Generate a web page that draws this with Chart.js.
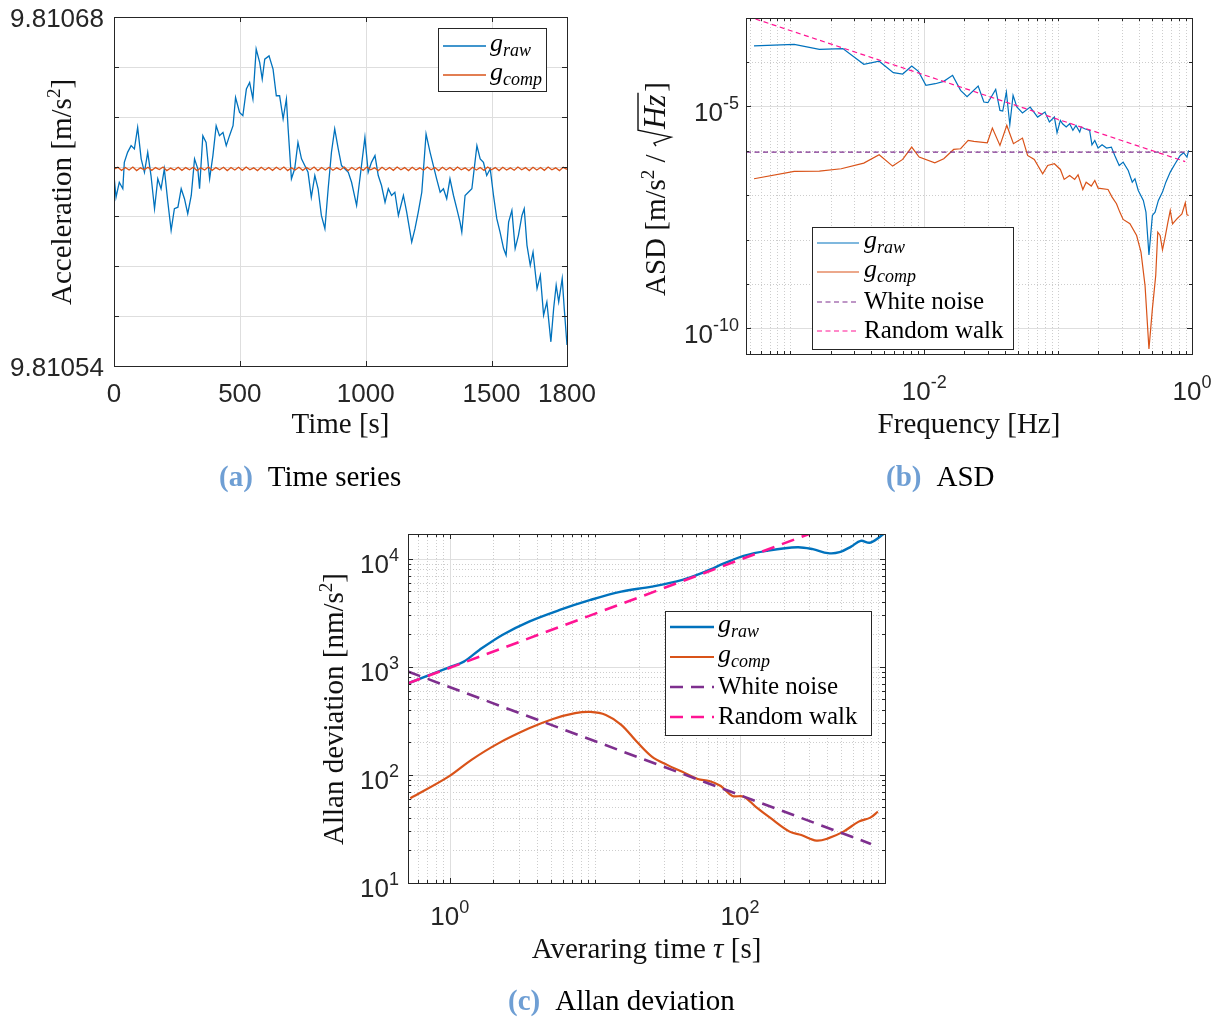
<!DOCTYPE html>
<html>
<head>
<meta charset="utf-8">
<script src="https://cdn.jsdelivr.net/npm/chart.js@4.4.0/dist/chart.umd.min.js"></script>
<style>
body { margin: 0; background: #fff; }
#wrap { position: relative; width: 1222px; height: 1021px; }
#wrap canvas { position: absolute; left: 0; top: 0; }
</style>
</head>
<body>
<div id="wrap">
  <canvas id="tsChart" width="1222" height="1021"></canvas>
  <canvas id="asdChart" width="1222" height="1021"></canvas>
  <canvas id="adevChart" width="1222" height="1021"></canvas>
</div>
<script>
// (a) Time series -------------------------------------------------------
const tsXTicks = [0, 500, 1000, 1500, 1800];
const tsYTicks = [9.81054, 9.81056, 9.81058, 9.81060, 9.81062, 9.81064, 9.81066, 9.81068];
const tsYLabels = [9.81054, 9.81068];

const tsTime = [0, 8, 21, 35, 41, 54, 68, 81, 94, 108, 121, 134, 147, 161, 174, 187, 200, 214, 227, 240,
  254, 267, 280, 293, 307, 320, 333, 340, 353, 366, 380, 393, 406, 419, 433, 446, 459, 473, 483, 499,
  512, 526, 539, 552, 565, 579, 589, 599, 616, 632, 645, 658, 672, 685, 692, 705, 718, 731, 745, 758,
  771, 784, 798, 811, 824, 838, 851, 864, 877, 891, 904, 917, 931, 944, 964, 977, 997, 1010, 1023, 1037,
  1050, 1063, 1077, 1090, 1103, 1116, 1130, 1150, 1163, 1183, 1196, 1209, 1223, 1240, 1256, 1269, 1282, 1296, 1309, 1322,
  1335, 1349, 1362, 1375, 1382, 1395, 1408, 1422, 1442, 1455, 1468, 1481, 1495, 1508, 1521, 1534, 1548, 1558, 1568, 1581,
  1594, 1607, 1621, 1630, 1641, 1654, 1665, 1681, 1694, 1707, 1720, 1736, 1747, 1757, 1767, 1781, 1789, 1800];
const tsRaw = [9.8106164, 9.8106077, 9.8106137, 9.8106111, 9.8106217, 9.8106257, 9.8106284, 9.8106271, 9.8106357, 9.8106231,
  9.8106177, 9.8106257, 9.8106164, 9.8106031, 9.8106151, 9.8106111, 9.8106191, 9.8106057, 9.8105944, 9.8106031,
  9.8106037, 9.8106111, 9.8106071, 9.8106011, 9.8106084, 9.8106231, 9.8106191, 9.8106111, 9.8106324, 9.8106297,
  9.8106151, 9.8106244, 9.8106364, 9.8106324, 9.8106337, 9.8106284, 9.8106324, 9.8106364, 9.8106477, 9.8106417,
  9.8106404, 9.8106511, 9.8106537, 9.8106471, 9.8106671, 9.8106617, 9.8106551, 9.8106631, 9.8106644, 9.8106591,
  9.8106484, 9.8106484, 9.8106391, 9.8106471, 9.8106351, 9.8106151, 9.8106191, 9.8106297, 9.8106231, 9.8106204,
  9.8106177, 9.8106077, 9.8106164, 9.8106111, 9.8106004, 9.8105951, 9.8106111, 9.8106257, 9.8106351, 9.8106271,
  9.8106204, 9.8106191, 9.8106177, 9.8106137, 9.8106044, 9.8106151, 9.8106317, 9.8106177, 9.8106217, 9.8106244,
  9.8106164, 9.8106124, 9.8106057, 9.8106111, 9.8106084, 9.8106097, 9.8106004, 9.8106084, 9.8106017, 9.8105897,
  9.8105951, 9.8106017, 9.8106097, 9.8106331, 9.8106257, 9.8106204, 9.8106151, 9.8106097, 9.8106111, 9.8106071,
  9.8106151, 9.8106084, 9.8106031, 9.8105977, 9.8105937, 9.8106084, 9.8106097, 9.8106111, 9.8106284, 9.8106231,
  9.8106217, 9.8106164, 9.8106191, 9.8106084, 9.8105991, 9.8105937, 9.8105871, 9.8105844, 9.8105977, 9.8106024,
  9.8105871, 9.8105924, 9.8106004, 9.8106031, 9.8105884, 9.8105804, 9.8105857, 9.8105711, 9.8105764, 9.8105604,
  9.8105657, 9.8105497, 9.8105631, 9.8105724, 9.8105657, 9.8105751, 9.8105631, 9.8105484];

// compensated signal, one reading every 15 s
const tsCompStep = 15;
const tsComp = [
  9.8106190, 9.8106197, 9.8106185, 9.8106196, 9.8106186, 9.8106198, 9.8106184, 9.8106195, 9.8106187, 9.8106197,
  9.8106185, 9.8106196, 9.8106188, 9.8106198, 9.8106184, 9.8106194, 9.8106186, 9.8106197, 9.8106185, 9.8106196,
  9.8106187, 9.8106197, 9.8106184, 9.8106195, 9.8106186, 9.8106198, 9.8106185, 9.8106196, 9.8106187, 9.8106197,
  9.8106184, 9.8106196, 9.8106186, 9.8106197, 9.8106185, 9.8106198, 9.8106187, 9.8106195, 9.8106184, 9.8106197,
  9.8106186, 9.8106196, 9.8106185, 9.8106197, 9.8106187, 9.8106198, 9.8106184, 9.8106195, 9.8106186, 9.8106197,
  9.8106185, 9.8106196, 9.8106187, 9.8106198, 9.8106184, 9.8106196, 9.8106186, 9.8106197, 9.8106185, 9.8106195,
  9.8106187, 9.8106198, 9.8106184, 9.8106196, 9.8106186, 9.8106197, 9.8106185, 9.8106198, 9.8106187, 9.8106195,
  9.8106184, 9.8106197, 9.8106186, 9.8106196, 9.8106185, 9.8106198, 9.8106187, 9.8106196, 9.8106184, 9.8106197,
  9.8106186, 9.8106195, 9.8106185, 9.8106198, 9.8106187, 9.8106196, 9.8106184, 9.8106197, 9.8106186, 9.8106196,
  9.8106185, 9.8106198, 9.8106187, 9.8106195, 9.8106184, 9.8106197, 9.8106186, 9.8106196, 9.8106185, 9.8106198,
  9.8106187, 9.8106196, 9.8106184, 9.8106197, 9.8106186, 9.8106195, 9.8106185, 9.8106198, 9.8106187, 9.8106196,
  9.8106184, 9.8106197, 9.8106186, 9.8106196, 9.8106185, 9.8106198, 9.8106187, 9.8106195, 9.8106184, 9.8106197,
  9.8106189];

// (b) ASD ---------------------------------------------------------------
const asdXTicks = [1e-2, 1];
const asdYTicks = [1e-10, 1e-5];

const asdRawFreq = [5.36e-4, 1.07e-3, 1.65e-3, 2.47e-3, 3.54e-3, 4.61e-3, 5.88e-3, 6.91e-3, 8.07e-3, 9.06e-3,
  1.03e-2, 1.21e-2, 1.40e-2, 1.63e-2, 1.87e-2, 2.09e-2, 2.53e-2, 2.79e-2, 2.99e-2, 3.42e-2,
  3.68e-2, 3.86e-2, 4.11e-2, 4.36e-2, 4.61e-2, 4.92e-2, 5.42e-2, 6.19e-2, 7.03e-2, 7.98e-2,
  8.61e-2, 9.38e-2, 9.82e-2, 0.104, 0.108, 0.115, 0.122, 0.129, 0.136, 0.145,
  0.149, 0.158, 0.172, 0.179, 0.188, 0.199, 0.213, 0.230, 0.250, 0.265,
  0.286, 0.306, 0.334, 0.358, 0.375, 0.397, 0.433, 0.453, 0.477, 0.506,
  0.530, 0.561, 0.602, 0.638, 0.688, 0.748, 0.817, 0.866, 0.917, 0.944];
const asdRaw = [2.30e-4, 2.50e-4, 1.93e-4, 2.00e-4, 8.85e-5, 1.04e-4, 5.74e-5, 5.36e-5, 8.13e-5, 6.15e-5,
  2.98e-5, 3.24e-5, 3.66e-5, 5.00e-5, 2.30e-5, 1.65e-5, 2.88e-5, 1.25e-5, 1.21e-5, 2.42e-5,
  8.12e-6, 7.85e-6, 2.10e-5, 3.86e-6, 1.77e-5, 9.66e-6, 7.08e-6, 9.66e-6, 5.74e-6, 7.45e-6,
  4.44e-6, 5.74e-6, 2.55e-6, 4.83e-6, 4.06e-6, 3.42e-6, 4.06e-6, 2.88e-6, 3.72e-6, 2.64e-6,
  3.42e-6, 3.13e-6, 2.88e-6, 1.36e-6, 1.71e-6, 1.15e-6, 1.36e-6, 1.15e-6, 1.21e-6, 7.85e-7,
  4.67e-7, 5.55e-7, 3.60e-7, 1.96e-7, 2.34e-7, 1.27e-7, 7.59e-8, 4.14e-8, 4.51e-9, 3.48e-8,
  4.14e-8, 7.59e-8, 1.17e-7, 1.96e-7, 3.30e-7, 5.09e-7, 7.85e-7, 9.02e-7, 7.20e-7, 1.02e-6];

const asdCompFreq = [5.36e-4, 1.07e-3, 1.65e-3, 2.40e-3, 3.54e-3, 4.61e-3, 5.81e-3, 6.91e-3, 8.07e-3, 9.17e-3,
  1.20e-2, 1.40e-2, 1.66e-2, 1.87e-2, 2.13e-2, 2.35e-2, 2.96e-2, 3.23e-2, 3.68e-2, 4.14e-2,
  4.64e-2, 5.42e-2, 5.92e-2, 6.64e-2, 7.67e-2, 8.36e-2, 9.38e-2, 0.104, 0.111, 0.122,
  0.133, 0.141, 0.153, 0.162, 0.177, 0.188, 0.199, 0.236, 0.253, 0.273,
  0.289, 0.306, 0.344, 0.386, 0.416, 0.446, 0.477, 0.506, 0.536, 0.555,
  0.578, 0.602, 0.630, 0.661, 0.688, 0.716, 0.771, 0.841, 0.891, 0.917, 0.944];
const asdComp = [2.34e-7, 3.42e-7, 3.48e-7, 3.93e-7, 5.27e-7, 8.13e-7, 4.51e-7, 6.38e-7, 1.21e-6, 7.20e-7,
  5.36e-7, 6.61e-7, 1.07e-6, 1.11e-6, 1.71e-6, 1.62e-6, 1.51e-6, 3.24e-6, 1.32e-6, 3.72e-6,
  1.44e-6, 1.93e-6, 7.85e-7, 6.38e-7, 3.03e-7, 4.67e-7, 5.09e-7, 3.79e-7, 2.26e-7, 2.78e-7,
  2.26e-7, 2.88e-7, 1.34e-7, 1.96e-7, 1.60e-7, 2.14e-7, 1.44e-7, 1.34e-7, 9.02e-8, 6.38e-8,
  4.14e-8, 2.83e-8, 2.26e-8, 1.23e-8, 5.18e-9, 9.16e-10, 3.42e-11, 2.73e-10, 1.54e-9, 1.46e-8,
  1.23e-8, 5.85e-9, 1.13e-8, 2.46e-8, 4.51e-8, 2.26e-8, 2.92e-8, 3.79e-8, 6.71e-8, 3.60e-8, 3.48e-8];

const asdWhiteFreq = [4.67e-4, 0.944];
const asdWhite = [9.33e-7, 9.33e-7];
const asdRwFreq = [5.5e-4, 0.89];
const asdRw = [9.3e-4, 5.7e-7];

// (c) Allan deviation ---------------------------------------------------
const adevXTicks = [1, 100];
const adevYTicks = [10, 100, 1000, 10000];

const adevRawTau = [0.518, 0.98, 1.25, 1.6, 2.3, 3.52, 5.73, 9.33, 15.2, 24.7, 40.1, 57.8,
  78.4, 106, 153, 249, 318, 405, 486, 584, 680, 792, 998];
const adevRaw = [706, 986, 1120, 1436, 1977, 2630, 3370, 4170, 4980, 5540, 6400, 7640,
  9120, 10660, 11860, 12830, 12300, 11300, 11530, 13000, 14680, 14150, 17300];

const adevCompTau = [0.534, 0.98, 1.41, 2.16, 3.52, 5.08, 7.31, 9.33, 11.9, 15.2, 19.4, 24.7, 31.5, 40.1, 51.2,
  61.5, 73.8, 88.7, 106, 128, 163, 220, 265, 337, 405, 517, 659, 792, 893];
const adevComp = [60.8, 96.4, 138, 196, 270, 328, 373, 383, 359, 291, 204, 148, 124, 107, 91.8,
  88, 79, 64, 63, 51, 39.8, 29.9, 27.8, 24.7, 25.9, 29.9, 37, 40.3, 45.7];

const adevWhiteTau = [0.515, 800];
const adevWhite = [906, 23];
const adevRwTau = [0.515, 300];
const adevRw = [705, 17000];

// styling ---------------------------------------------------------------
const SANS = '"Liberation Sans", Arial, Helvetica, sans-serif';
const SERIF = '"Liberation Serif", "Times New Roman", serif';
const INK = '#262626';
const BLUE = '#0072BD';
const ORANGE = '#D95319';
const PURPLE = '#7E2F8E';
const PINK = '#FF1493';
const CAPTION = '#6f9fd4';

function pts(xs, ys) {
    return xs.map((x, i) => ({ x: x, y: ys[i] }));
}

function logMinors(d0, d1, ks, skip) {
    const out = [];
    for (let d = d0; d <= d1; d++) {
        ks.forEach(k => {
            const v = k * Math.pow(10, d);
            if (!skip.some(s => Math.abs(Math.log10(v) - Math.log10(s)) < 1e-9)) out.push(v);
        });
    }
    return out;
}

// draws a run of text pieces (font / raise / colour / gap) on one baseline
function textRun(ctx, parts, x, y, align) {
    let w = 0;
    parts.forEach(p => { ctx.font = p.f; w += ctx.measureText(p.t).width + (p.g || 0); });
    let cx = align === 'center' ? x - w / 2 : align === 'right' ? x - w : x;
    ctx.textAlign = 'left';
    ctx.textBaseline = 'alphabetic';
    parts.forEach(p => {
        ctx.font = p.f;
        if (p.c) ctx.fillStyle = p.c;
        ctx.fillText(p.t, cx, y + (p.dy || 0));
        cx += ctx.measureText(p.t).width + (p.g || 0);
    });
    return w;
}

function pow10(e) {
    return [{ t: '10', f: '26px ' + SANS }, { t: String(e), f: '18px ' + SANS, dy: -12 }];
}

function gLabel(sub) {
    return [{ t: 'g', f: 'italic 26px ' + SERIF }, { t: sub, f: 'italic 18px ' + SERIF, dy: 5 }];
}

function plainLabel(s) {
    return [{ t: s, f: '25px ' + SERIF }];
}

function rotatedTitle(ctx, parts, x, y) {
    ctx.save();
    ctx.translate(x, y);
    ctx.rotate(-Math.PI / 2);
    textRun(ctx, parts, 0, 0, 'center');
    ctx.restore();
}

function drawLegend(ctx, box, rows) {
    ctx.save();
    ctx.fillStyle = '#fff';
    ctx.fillRect(box.x, box.y, box.w, box.h);
    ctx.strokeStyle = INK;
    ctx.lineWidth = 1;
    ctx.strokeRect(box.x + 0.5, box.y + 0.5, box.w, box.h);
    rows.forEach(r => {
        ctx.strokeStyle = r.ds.borderColor;
        ctx.lineWidth = r.ds.borderWidth;
        ctx.setLineDash(r.ds.borderDash || []);
        ctx.beginPath();
        ctx.moveTo(box.lx0, r.y);
        ctx.lineTo(box.lx1, r.y);
        ctx.stroke();
        ctx.setLineDash([]);
        ctx.fillStyle = '#000';
        textRun(ctx, r.parts, box.tx, r.y + r.base, 'left');
    });
    ctx.restore();
}

function caption(ctx, tag, text, x, y) {
    ctx.save();
    textRun(ctx, [
        { t: tag, f: 'bold 29px ' + SERIF, c: CAPTION, g: 15 },
        { t: text, f: '29px ' + SERIF, c: '#000' }
    ], x, y, 'left');
    ctx.restore();
}

// grid, box and inward ticks, MATLAB style
function framePlugin(spec) {
    return {
        id: 'frame',
        beforeDatasetsDraw(chart) {
            const { ctx, chartArea: a } = chart;
            const sx = chart.scales.x, sy = chart.scales.y;
            ctx.save();
            ctx.lineWidth = 1;
            const vl = v => {
                const x = Math.round(sx.getPixelForValue(v)) + 0.5;
                if (x < a.left || x > a.right) return;
                ctx.beginPath(); ctx.moveTo(x, a.top); ctx.lineTo(x, a.bottom); ctx.stroke();
            };
            const hl = v => {
                const y = Math.round(sy.getPixelForValue(v)) + 0.5;
                if (y < a.top || y > a.bottom) return;
                ctx.beginPath(); ctx.moveTo(a.left, y); ctx.lineTo(a.right, y); ctx.stroke();
            };
            ctx.strokeStyle = '#cdcdcd';
            ctx.setLineDash([1, 2]);
            (spec.xMinor || []).forEach(vl);
            (spec.yMinor || []).forEach(hl);
            ctx.setLineDash([]);
            ctx.strokeStyle = '#dedede';
            spec.xMajor.forEach(vl);
            spec.yMajor.forEach(hl);
            ctx.restore();
        },
        afterDatasetsDraw(chart) {
            const { ctx, chartArea: a } = chart;
            const sx = chart.scales.x, sy = chart.scales.y;
            ctx.save();
            ctx.strokeStyle = INK;
            ctx.lineWidth = 1;
            const xt = (vals, len) => vals.forEach(v => {
                const x = Math.round(sx.getPixelForValue(v)) + 0.5;
                if (x < a.left - 1 || x > a.right + 1) return;
                ctx.beginPath();
                ctx.moveTo(x, a.bottom); ctx.lineTo(x, a.bottom - len);
                ctx.moveTo(x, a.top); ctx.lineTo(x, a.top + len);
                ctx.stroke();
            });
            const yt = (vals, len) => vals.forEach(v => {
                const y = Math.round(sy.getPixelForValue(v)) + 0.5;
                if (y < a.top - 1 || y > a.bottom + 1) return;
                ctx.beginPath();
                ctx.moveTo(a.left, y); ctx.lineTo(a.left + len, y);
                ctx.moveTo(a.right, y); ctx.lineTo(a.right - len, y);
                ctx.stroke();
            });
            xt(spec.xMajor, 5);
            yt(spec.yMajor, 5);
            xt(spec.xMinor || [], 3);
            yt(spec.yMinor || [], 3);
            ctx.strokeRect(a.left + 0.5, a.top + 0.5, a.right - a.left, a.bottom - a.top);
            ctx.restore();
        },
        afterDraw(chart) {
            chart.ctx.save();
            spec.decorate(chart);
            chart.ctx.restore();
        }
    };
}

function baseOptions(area, xScale, yScale) {
    return {
        responsive: false,
        animation: false,
        devicePixelRatio: 1,
        layout: { padding: { left: area.l, top: area.t, right: 1222 - area.r, bottom: 1021 - area.b } },
        plugins: { legend: { display: false }, tooltip: { enabled: false } },
        elements: { point: { radius: 0 } },
        scales: { x: xScale, y: yScale }
    };
}

// (a) time series chart
new Chart(document.getElementById('tsChart'), {
    type: 'line',
    data: {
        datasets: [
            { data: pts(tsTime, tsRaw), borderColor: BLUE, borderWidth: 1.3, tension: 0, order: 2 },
            { data: tsComp.map((v, i) => ({ x: i * tsCompStep, y: v })), borderColor: ORANGE, borderWidth: 1.3, tension: 0, order: 1 }
        ]
    },
    options: baseOptions({ l: 114, t: 17, r: 567, b: 366 },
        { type: 'linear', min: 0, max: 1800, display: false },
        { type: 'linear', min: 9.81054, max: 9.81068, display: false }),
    plugins: [framePlugin({
        xMajor: tsXTicks,
        yMajor: tsYTicks,
        decorate(chart) {
            const ctx = chart.ctx, a = chart.chartArea;
            const sx = chart.scales.x, sy = chart.scales.y;
            const ds = chart.data.datasets;
            ctx.fillStyle = INK;
            tsXTicks.forEach(v => textRun(ctx, [{ t: String(v), f: '26px ' + SANS }], sx.getPixelForValue(v), a.bottom + 36, 'center'));
            tsYLabels.forEach(v => textRun(ctx, [{ t: v.toFixed(5), f: '26px ' + SANS }], a.left - 10, sy.getPixelForValue(v) + 10, 'right'));
            ctx.fillStyle = '#111';
            textRun(ctx, [{ t: 'Time [s]', f: '29px ' + SERIF }], (a.left + a.right) / 2, 433, 'center');
            rotatedTitle(ctx, [
                { t: 'Acceleration [m/s', f: '29px ' + SERIF },
                { t: '2', f: '19px ' + SERIF, dy: -11 },
                { t: ']', f: '29px ' + SERIF }
            ], 71, 192);
            drawLegend(ctx, { x: 438, y: 28, w: 108, h: 63, lx0: 443, lx1: 486, tx: 490 }, [
                { ds: ds[0], y: 46, base: 5, parts: gLabel('raw') },
                { ds: ds[1], y: 75, base: 5, parts: gLabel('comp') }
            ]);
            caption(ctx, '(a)', 'Time series', 219, 486);
        }
    })]
});

// (b) ASD chart
new Chart(document.getElementById('asdChart'), {
    type: 'line',
    data: {
        datasets: [
            { data: pts(asdRawFreq, asdRaw), borderColor: BLUE, borderWidth: 1.2, tension: 0, order: 4 },
            { data: pts(asdCompFreq, asdComp), borderColor: ORANGE, borderWidth: 1.2, tension: 0, order: 3 },
            { data: pts(asdWhiteFreq, asdWhite), borderColor: PURPLE, borderWidth: 1.2, borderDash: [5, 3.5], order: 2 },
            { data: pts(asdRwFreq, asdRw), borderColor: PINK, borderWidth: 1.2, borderDash: [5, 3.5], order: 1 }
        ]
    },
    options: baseOptions({ l: 746, t: 18, r: 1192, b: 354 },
        { type: 'logarithmic', min: 4.67e-4, max: 1, display: false },
        { type: 'logarithmic', min: 2.63e-11, max: 9.8e-4, display: false }),
    plugins: [framePlugin({
        xMajor: asdXTicks,
        yMajor: asdYTicks,
        xMinor: logMinors(-4, -1, [1, 2, 3, 4, 5, 6, 7, 8, 9], asdXTicks),
        yMinor: logMinors(-11, -3, [1], asdYTicks),
        decorate(chart) {
            const ctx = chart.ctx, a = chart.chartArea;
            const sx = chart.scales.x, sy = chart.scales.y;
            const ds = chart.data.datasets;
            ctx.fillStyle = INK;
            asdXTicks.forEach(v => textRun(ctx, pow10(Math.round(Math.log10(v))), sx.getPixelForValue(v), a.bottom + 46, 'center'));
            asdYTicks.forEach(v => textRun(ctx, pow10(Math.round(Math.log10(v))), a.left - 7, sy.getPixelForValue(v) + 15, 'right'));
            ctx.fillStyle = '#111';
            textRun(ctx, [{ t: 'Frequency [Hz]', f: '29px ' + SERIF }], (a.left + a.right) / 2, 433, 'center');

            // ASD [m/s^2 / sqrt(Hz)]
            ctx.save();
            ctx.translate(665, 189);
            ctx.rotate(-Math.PI / 2);
            const f29 = '29px ' + SERIF;
            const head = [{ t: 'ASD [m/s', f: f29 }, { t: '2', f: '19px ' + SERIF, dy: -11 }, { t: ' / ', f: f29 }];
            let wHead = 0;
            head.forEach(p => { ctx.font = p.f; wHead += ctx.measureText(p.t).width; });
            ctx.font = 'italic 31px ' + SERIF;
            const wHz = ctx.measureText('Hz').width;
            ctx.font = f29;
            const wEnd = ctx.measureText(']').width;
            const radW = 18;
            const total = wHead + radW + wHz + 3 + wEnd;
            const x0 = -total / 2;
            textRun(ctx, head, x0, 0, 'left');
            const rx = x0 + wHead;
            ctx.strokeStyle = '#111';
            ctx.lineWidth = 1.4;
            ctx.beginPath();
            ctx.moveTo(rx + 1, -9);
            ctx.lineTo(rx + 4, -11);
            ctx.lineTo(rx + 10, 6);
            ctx.lineTo(rx + 17, -27);
            ctx.lineTo(rx + radW + wHz + 2, -27);
            ctx.stroke();
            textRun(ctx, [{ t: 'Hz', f: 'italic 31px ' + SERIF }], rx + radW, 0, 'left');
            textRun(ctx, [{ t: ']', f: f29 }], rx + radW + wHz + 3, 0, 'left');
            ctx.restore();

            drawLegend(ctx, { x: 812, y: 227, w: 201, h: 122, lx0: 817, lx1: 859, tx: 864 }, [
                { ds: ds[0], y: 243, base: 5, parts: gLabel('raw') },
                { ds: ds[1], y: 272, base: 5, parts: gLabel('comp') },
                { ds: ds[2], y: 302, base: 7, parts: plainLabel('White noise') },
                { ds: ds[3], y: 331, base: 7, parts: plainLabel('Random walk') }
            ]);
            caption(ctx, '(b)', 'ASD', 886, 486);
        }
    })]
});

// (c) Allan deviation chart
new Chart(document.getElementById('adevChart'), {
    type: 'line',
    data: {
        datasets: [
            { data: pts(adevRawTau, adevRaw), borderColor: BLUE, borderWidth: 2.4, tension: 0.35, order: 4 },
            { data: pts(adevCompTau, adevComp), borderColor: ORANGE, borderWidth: 2.2, tension: 0.35, order: 3 },
            { data: pts(adevWhiteTau, adevWhite), borderColor: PURPLE, borderWidth: 2.6, borderDash: [13, 8], order: 2 },
            { data: pts(adevRwTau, adevRw), borderColor: PINK, borderWidth: 2.6, borderDash: [13, 8], order: 1 }
        ]
    },
    options: baseOptions({ l: 408, t: 534, r: 885, b: 883 },
        { type: 'logarithmic', min: 0.515, max: 1000, display: false },
        { type: 'logarithmic', min: 10, max: 17000, display: false }),
    plugins: [framePlugin({
        xMajor: adevXTicks,
        yMajor: adevYTicks,
        xMinor: logMinors(-1, 2, [1, 2, 3, 4, 5, 6, 7, 8, 9], adevXTicks),
        yMinor: logMinors(1, 4, [2, 3, 4, 5, 6, 7, 8, 9], adevYTicks),
        decorate(chart) {
            const ctx = chart.ctx, a = chart.chartArea;
            const sx = chart.scales.x, sy = chart.scales.y;
            const ds = chart.data.datasets;
            ctx.fillStyle = INK;
            adevXTicks.forEach(v => textRun(ctx, pow10(Math.round(Math.log10(v))), sx.getPixelForValue(v), a.bottom + 42, 'center'));
            adevYTicks.forEach(v => textRun(ctx, pow10(Math.round(Math.log10(v))), a.left - 9, sy.getPixelForValue(v) + 14, 'right'));
            ctx.fillStyle = '#111';
            textRun(ctx, [
                { t: 'Averaring time ', f: '29px ' + SERIF },
                { t: '\u03c4', f: 'italic 29px ' + SERIF },
                { t: ' [s]', f: '29px ' + SERIF }
            ], (a.left + a.right) / 2, 958, 'center');
            rotatedTitle(ctx, [
                { t: 'Allan deviation [nm/s', f: '29px ' + SERIF },
                { t: '2', f: '19px ' + SERIF, dy: -11 },
                { t: ']', f: '29px ' + SERIF }
            ], 343, 709);
            drawLegend(ctx, { x: 665, y: 611, w: 206, h: 124, lx0: 670, lx1: 714, tx: 718 }, [
                { ds: ds[0], y: 627, base: 5, parts: gLabel('raw') },
                { ds: ds[1], y: 657, base: 5, parts: gLabel('comp') },
                { ds: ds[2], y: 687, base: 7, parts: plainLabel('White noise') },
                { ds: ds[3], y: 717, base: 7, parts: plainLabel('Random walk') }
            ]);
            caption(ctx, '(c)', 'Allan deviation', 508, 1010);
        }
    })]
});
</script>
</body>
</html>
